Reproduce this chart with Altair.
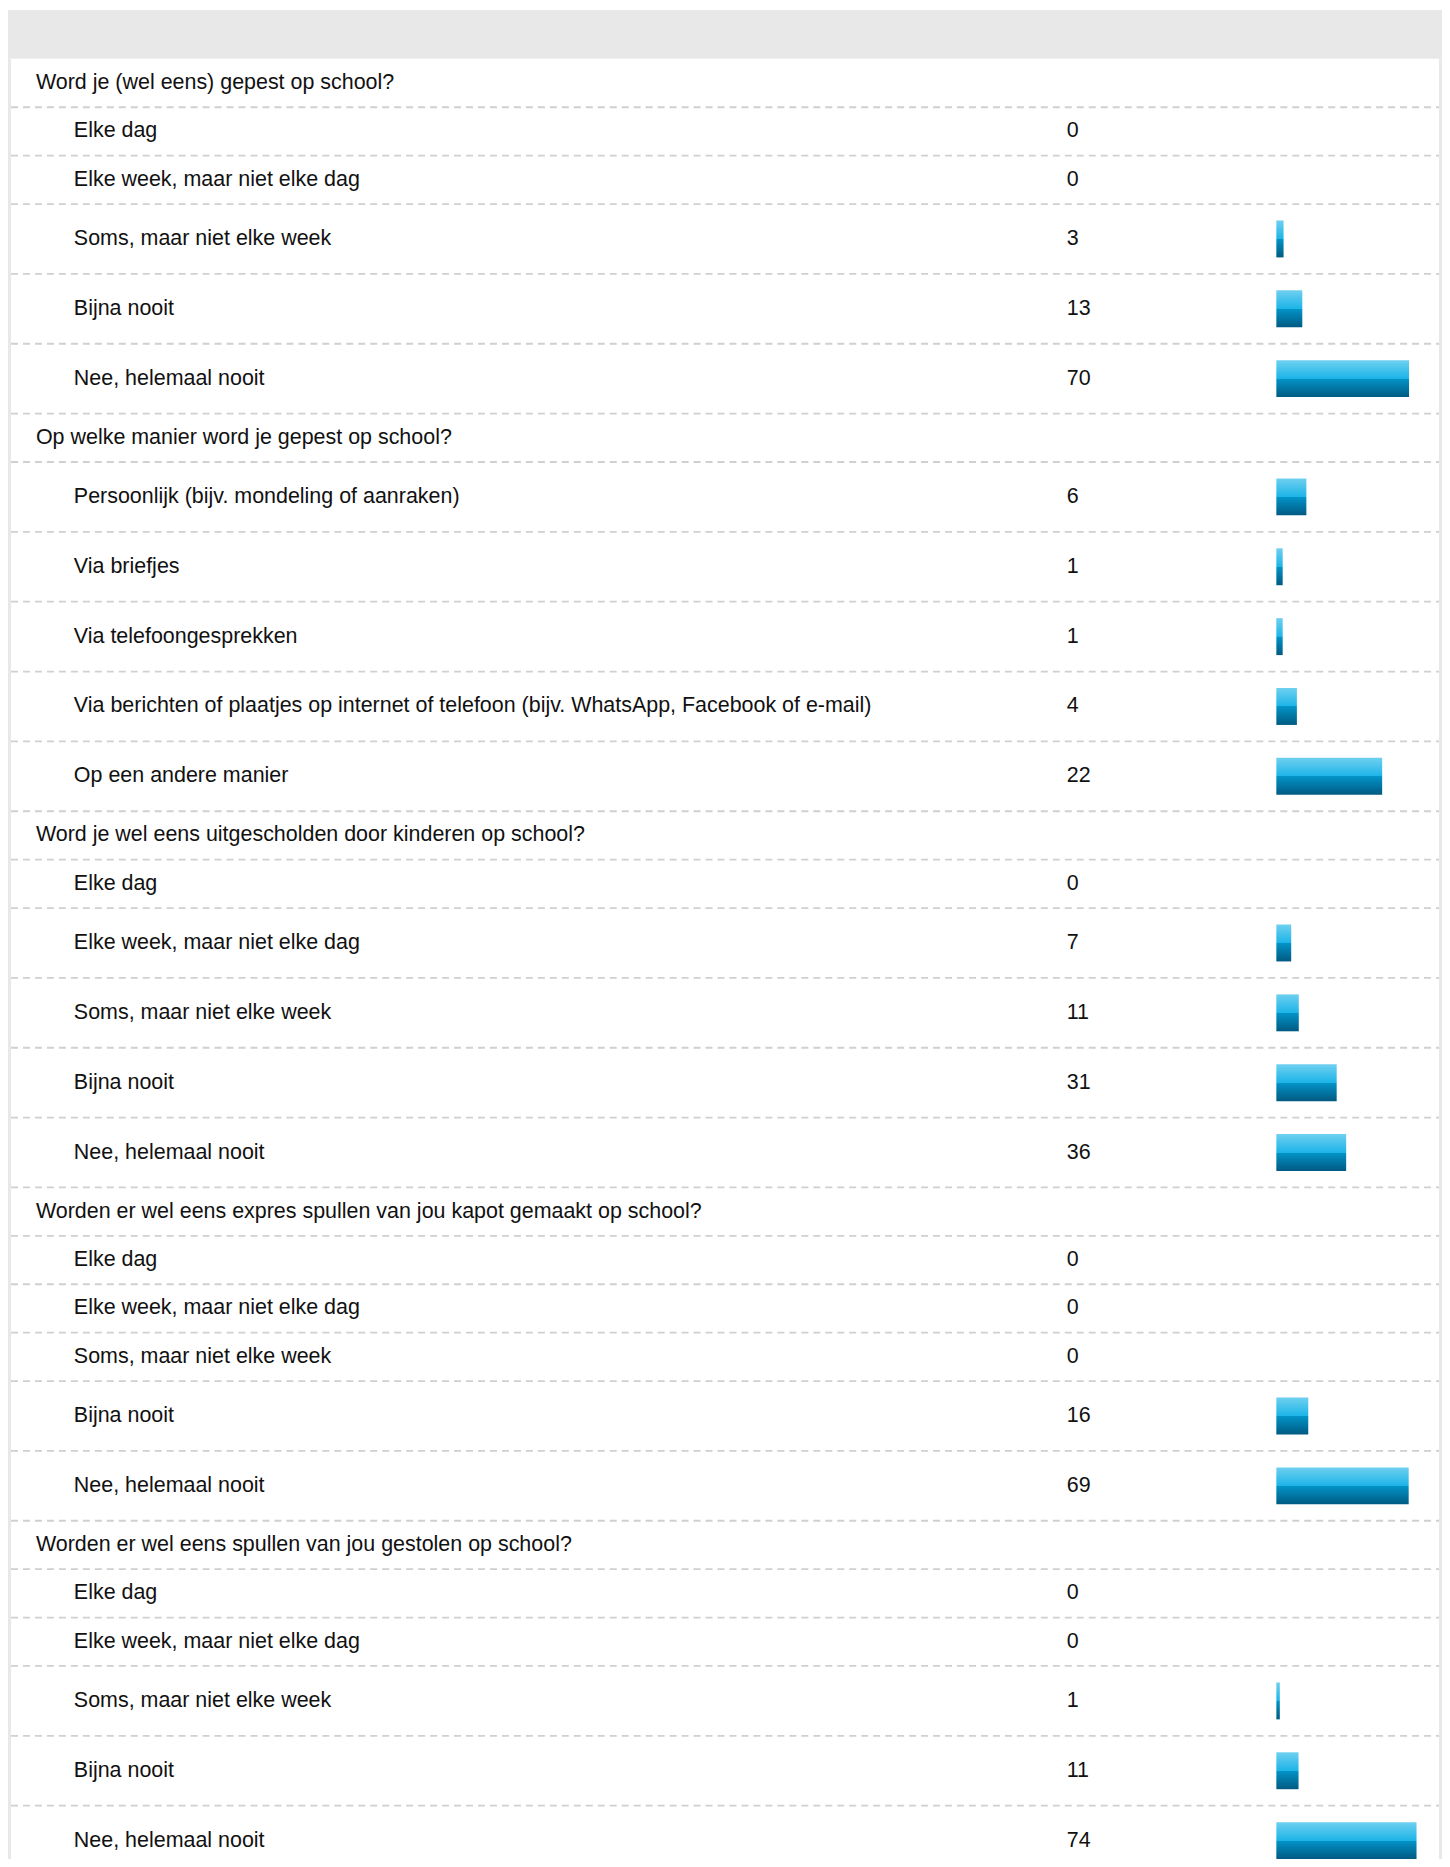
import altair as alt
import pandas as pd

# ---------------- data ----------------
questions = [
    "Word je (wel eens) gepest op school?",
    "Op welke manier word je gepest op school?",
    "Word je wel eens uitgescholden door kinderen op school?",
    "Worden er wel eens expres spullen van jou kapot gemaakt op school?",
    "Worden er wel eens spullen van jou gestolen op school?",
]
freq_answers = [
    "Elke dag",
    "Elke week, maar niet elke dag",
    "Soms, maar niet elke week",
    "Bijna nooit",
    "Nee, helemaal nooit",
]
way_answers = [
    "Persoonlijk (bijv. mondeling of aanraken)",
    "Via briefjes",
    "Via telefoongesprekken",
    "Via berichten of plaatjes op internet of telefoon (bijv. WhatsApp, Facebook of e-mail)",
    "Op een andere manier",
]
values_q1 = [0, 0, 3, 13, 70]
values_q2 = [6, 1, 1, 4, 22]
values_q3 = [0, 7, 11, 31, 36]
values_q4 = [0, 0, 0, 16, 69]
values_q5 = [0, 0, 1, 11, 74]

answers = [freq_answers, way_answers, freq_answers, freq_answers, freq_answers]
values = [values_q1, values_q2, values_q3, values_q4, values_q5]

# ---------------- layout (table rows) ----------------
W = 1437
H = 1851
HEADER = 49
SHORT = 48.5
TALL = 70
BAR_HALF = 18.5

rows = []
y = HEADER
for qi, (q, ans, vals) in enumerate(zip(questions, answers, values)):
    rows.append(dict(kind="q", qid=qi, label=q, value=0, vtext="", y0=y, y1=y + SHORT))
    y += SHORT
    for a, v in zip(ans, vals):
        h = TALL if v > 0 else SHORT
        rows.append(dict(kind="a", qid=qi, label=a, value=v, vtext=str(v), y0=y, y1=y + h))
        y += h
TOTAL = y
df = pd.DataFrame(rows)
df["mid"] = (df["y0"] + df["y1"]) / 2
df["b0"] = df["mid"] - BAR_HALF
df["b1"] = df["mid"] + BAR_HALF

hdf = pd.DataFrame({"y0": [0.0], "y1": [float(HEADER)], "yb": [float(TOTAL)]})

yscale = alt.Scale(domain=[0, TOTAL], range=[0, TOTAL], nice=False, zero=False)
FONT = "Liberation Sans"
FS = 21.5
TXT = "#111111"

base = alt.Chart(df)

header = alt.Chart(hdf).mark_rect(color="#e8e8e8").encode(
    x=alt.value(0), x2=alt.value(W),
    y=alt.Y("y0:Q", scale=yscale, axis=None), y2="y1:Q",
)
left_border = alt.Chart(hdf).mark_rect(color="#e8e8e8").encode(
    x=alt.value(0), x2=alt.value(3),
    y=alt.Y("y1:Q", scale=yscale, axis=None), y2="yb:Q",
)
right_border = alt.Chart(hdf).mark_rect(color="#e8e8e8").encode(
    x=alt.value(W - 3), x2=alt.value(W),
    y=alt.Y("y1:Q", scale=yscale, axis=None), y2="yb:Q",
)

lines = base.mark_rule(color="#d0d0d0", strokeWidth=1.8, strokeDash=[7, 5]).encode(
    x=alt.value(3), x2=alt.value(W - 3),
    y=alt.Y("y1:Q", scale=yscale, axis=None),
)

q_text = base.transform_filter(alt.datum.kind == "q").mark_text(
    align="left", baseline="middle", font=FONT, fontSize=FS, color=TXT
).encode(
    x=alt.value(28),
    y=alt.Y("mid:Q", scale=yscale, axis=None),
    text="label:N",
)
a_text = base.transform_filter(alt.datum.kind == "a").mark_text(
    align="left", baseline="middle", font=FONT, fontSize=FS, color=TXT
).encode(
    x=alt.value(66),
    y=alt.Y("mid:Q", scale=yscale, axis=None),
    text="label:N",
)
v_text = base.transform_filter(alt.datum.kind == "a").mark_text(
    align="left", baseline="middle", font=FONT, fontSize=FS, color=TXT
).encode(
    x=alt.value(1061),
    y=alt.Y("mid:Q", scale=yscale, axis=None),
    text="vtext:N",
)

grad = alt.Gradient(
    gradient="linear", x1=0, y1=0, x2=0, y2=1,
    stops=[
        alt.GradientStop(offset=0, color="#6fd0f0"),
        alt.GradientStop(offset=0.5, color="#1cb4e8"),
        alt.GradientStop(offset=0.5, color="#0394c8"),
        alt.GradientStop(offset=1, color="#005a82"),
    ],
)
# bar length = share of the answers within each question (percent)
bars = base.transform_filter(alt.datum.kind == "a").transform_joinaggregate(
    total="sum(value)", groupby=["qid"]
).transform_calculate(
    pct="100 * datum.value / datum.total"
).transform_filter(alt.datum.value > 0).mark_rect(fill=grad).encode(
    x=alt.X("pct:Q", scale=alt.Scale(domain=[0, 100], range=[1272.6, 1434.0], nice=False, zero=False), axis=None),
    x2=alt.value(1271),
    y=alt.Y("b0:Q", scale=yscale, axis=None),
    y2="b1:Q",
)

chart = alt.layer(
    header, lines, left_border, right_border, q_text, a_text, v_text, bars
).properties(
    width=W, height=H, background="white", padding=0,
    autosize=alt.AutoSizeParams(type="none"),
).configure_view(stroke=None)

chart.save("out.html", embed_options={"renderer": "svg", "actions": False})
